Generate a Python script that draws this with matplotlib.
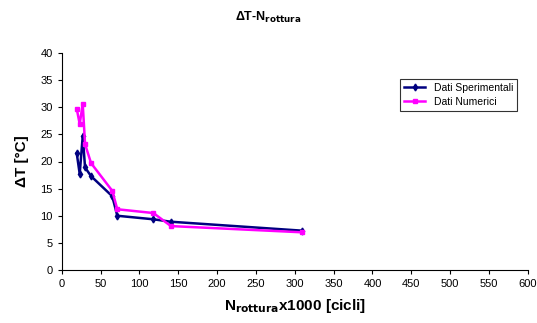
import matplotlib
matplotlib.use("Agg")
import matplotlib.pyplot as plt

plt.rcParams['font.family'] = ['Liberation Sans', 'DejaVu Sans']

# N rottura (x1000 cicli) and Delta T [°C]
n_sper = [19.3, 23.1, 27.0, 30.0, 37.7, 65.0, 71.5, 118.0, 140.5, 309.7]
dt_sper = [21.5, 17.7, 24.7, 18.9, 17.3, 13.6, 10.0, 9.35, 8.9, 7.25]

n_num = [19.3, 23.1, 27.0, 30.0, 37.7, 65.0, 71.5, 118.0, 140.5, 309.7]
dt_num = [29.7, 26.9, 30.6, 23.2, 19.7, 14.6, 11.2, 10.5, 8.1, 6.95]

x_ticks = list(range(0, 601, 50))
y_ticks = list(range(0, 41, 5))

fig = plt.figure(figsize=(5.37, 3.23), dpi=100)
ax = fig.add_axes([0.115, 0.164, 0.868, 0.672])

ax.plot(n_sper, dt_sper, color='#000080', lw=1.8, marker='d', ms=3.5,
        label='Dati Sperimentali')
ax.plot(n_num, dt_num, color='#ff00ff', lw=1.8, marker='s', ms=3.5,
        label='Dati Numerici')

ax.set_xlim(0, 600)
ax.set_ylim(0, 40)
ax.set_xticks(x_ticks)
ax.set_yticks(y_ticks)
ax.tick_params(labelsize=8, length=3, width=0.8, direction='out')
ax.spines['top'].set_visible(False)
ax.spines['right'].set_visible(False)

ax.set_xlabel(r'N$_{\mathbf{rottura}}$x1000 [cicli]', fontsize=11, fontweight='bold', labelpad=6)
ax.set_ylabel('ΔT [°C]', fontsize=11, fontweight='bold', labelpad=8)
fig.text(0.5, 0.945, r'ΔT-N$_{\mathbf{rottura}}$', ha='center', va='center',
         fontsize=9, fontweight='bold')

leg = ax.legend(loc='upper left', bbox_to_anchor=(0.715, 0.905), fontsize=7.5,
                frameon=True, fancybox=False, edgecolor='black',
                handlelength=2.0, borderpad=0.4, labelspacing=0.4)
leg.get_frame().set_linewidth(0.8)

fig.savefig('out.png', dpi=100)
